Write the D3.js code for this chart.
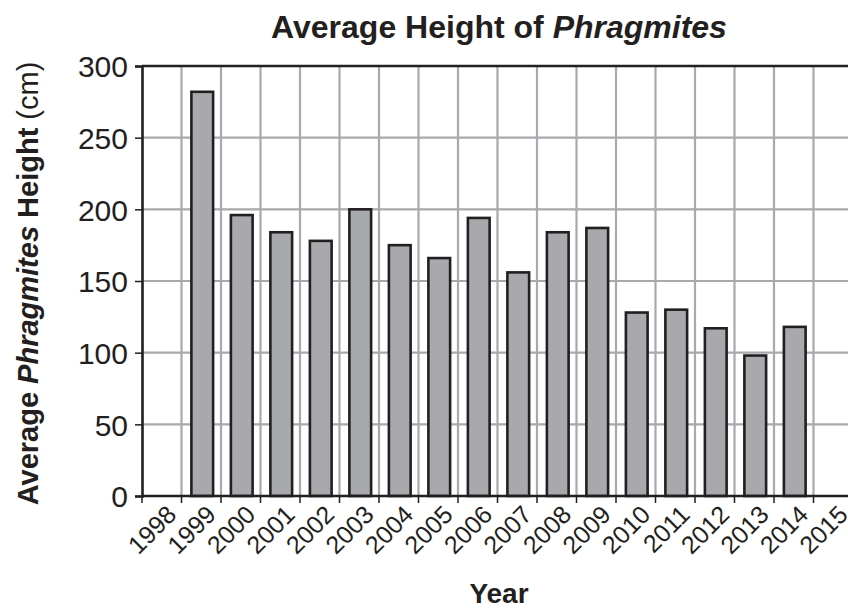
<!DOCTYPE html>
<html>
<head>
<meta charset="utf-8">
<script src="https://cdn.jsdelivr.net/npm/d3@7"></script>
<style>
  html, body { margin: 0; padding: 0; background: #fff; }
  svg { display: block; font-family: "Liberation Sans", Arial, Helvetica, sans-serif; }
</style>
</head>
<body>
<svg id="chart" width="848" height="608"></svg>
<script>
const years = ["1998","1999","2000","2001","2002","2003","2004","2005","2006","2007","2008","2009","2010","2011","2012","2013","2014","2015"];
const heights = [null, 282, 196, 184, 178, 200, 175, 166, 194, 156, 184, 187, 128, 130, 117, 98, 118, null];
const yTicks = [0, 50, 100, 150, 200, 250, 300];

(function () {
const svg = d3.select("#chart");
const W = 848, H = 608;
const pLeft = 142, pTop = 66, pBottom = 496;
const bandW = 39.5;
const pRight = pLeft + bandW * years.length;

const x = d3.scaleBand().domain(years).range([pLeft, pRight]).paddingInner(0).paddingOuter(0);
const y = d3.scaleLinear().domain([0, 300]).range([pBottom, pTop]);

const ink = "#231f20";
const grid = "#a7a9ac";

// horizontal gridlines
svg.append("g").selectAll("line").data(yTicks.filter(v => v > 0 && v < 300)).join("line")
  .attr("x1", pLeft).attr("x2", W).attr("y1", d => y(d)).attr("y2", d => y(d))
  .attr("stroke", grid).attr("stroke-width", 2.2);

// vertical gridlines at band edges
svg.append("g").selectAll("line").data(years.slice(1)).join("line")
  .attr("x1", d => x(d)).attr("x2", d => x(d)).attr("y1", pTop).attr("y2", pBottom)
  .attr("stroke", grid).attr("stroke-width", 2.2);

// bars
const barW = x.bandwidth() * 0.55;
svg.append("g").selectAll("rect").data(years.map((yr, i) => ({yr, v: heights[i]})).filter(d => d.v != null)).join("rect")
  .attr("x", d => x(d.yr) + (x.bandwidth() - barW) / 2 + 1)
  .attr("width", barW)
  .attr("y", d => y(d.v))
  .attr("height", d => y(0) - y(d.v))
  .attr("fill", "#a7a9ac")
  .attr("stroke", ink).attr("stroke-width", 2.6);

// top border
svg.append("line").attr("x1", pLeft).attr("x2", W).attr("y1", pTop).attr("y2", pTop)
  .attr("stroke", ink).attr("stroke-width", 2.6);

// y axis
const yAxis = svg.append("g").attr("transform", `translate(${pLeft},0)`)
  .call(d3.axisLeft(y).tickValues(yTicks).tickSize(7).tickPadding(7));
yAxis.select(".domain").attr("stroke", ink).attr("stroke-width", 2.6);
yAxis.selectAll(".tick line").attr("stroke", ink).attr("stroke-width", 1.5);
yAxis.selectAll(".tick text").attr("fill", ink).style("font-size", "30px").attr("dy", "0.36em");

// x axis line
svg.append("line").attr("x1", pLeft).attr("x2", W).attr("y1", pBottom).attr("y2", pBottom)
  .attr("stroke", ink).attr("stroke-width", 2.6);

// x tick marks at band edges
svg.append("g").selectAll("line").data(years).join("line")
  .attr("x1", d => x(d)).attr("x2", d => x(d)).attr("y1", pBottom).attr("y2", pBottom + 7)
  .attr("stroke", ink).attr("stroke-width", 1.5);

// x tick labels
svg.append("g").selectAll("text").data(years).join("text")
  .attr("transform", d => `translate(${x(d) + x.bandwidth() / 2 + 10},${pBottom + 14}) rotate(-45)`)
  .attr("text-anchor", "end")
  .attr("dy", "0.35em")
  .attr("fill", ink)
  .style("font-size", "25px")
  .text(d => d);

// title
const title = svg.append("text").attr("x", 499).attr("y", 38).attr("text-anchor", "middle")
  .attr("fill", ink).style("font-size", "32px").style("font-weight", "bold");
title.append("tspan").text("Average Height of ");
title.append("tspan").style("font-style", "italic").text("Phragmites");

// x label
svg.append("text").attr("x", 499).attr("y", 603).attr("text-anchor", "middle")
  .attr("fill", ink).style("font-size", "28px").style("font-weight", "bold").text("Year");

// y label
const yl = svg.append("text").attr("transform", `translate(38,${(62 + 505) / 2}) rotate(-90)`)
  .attr("text-anchor", "middle").attr("fill", ink).style("font-size", "29px");
yl.append("tspan").style("font-weight", "bold").text("Average ");
yl.append("tspan").style("font-weight", "bold").style("font-style", "italic").text("Phragmites");
yl.append("tspan").style("font-weight", "bold").text(" Height ");
yl.append("tspan").text("(cm)");
})();
</script>
</body>
</html>
